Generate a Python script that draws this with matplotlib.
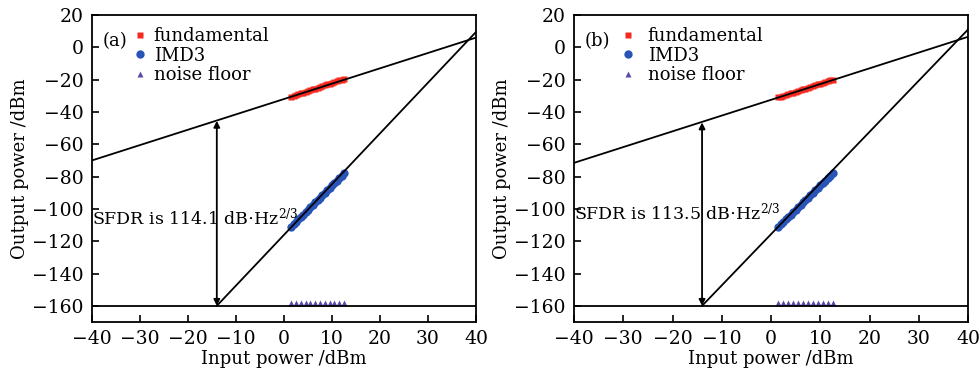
import matplotlib
matplotlib.use("Agg")
import matplotlib.pyplot as plt
import matplotlib.transforms as mtransforms
import numpy as np

plt.rcParams['font.family'] = ['DejaVu Serif']
plt.rcParams['mathtext.fontset'] = 'dejavuserif'

# ---- data ----
pin_sig = [1.5, 2, 2.5, 3, 3.5, 4, 4.5, 5, 5.5, 6, 6.5, 7, 7.5, 8, 8.5, 9, 9.5,
           10, 10.5, 11, 11.5, 12, 12.5]
pin_noise = [1.5, 2.5, 3.5, 4.5, 5.5, 6.5, 7.5, 8.5, 9.5, 10.5, 11.5, 12.5]
fund_a = [-30.5, -30, -29.5, -29, -28.5, -28, -27.5, -27, -26.5, -26, -25.5, -25,
          -24.5, -24, -23.5, -23, -22.5, -22, -21.5, -21, -20.5, -20, -19.5]
imd3_a = [-111, -109.5, -108, -106.5, -105, -103.5, -102, -100.5, -99, -97.5, -96,
          -94.5, -93, -91.5, -90, -88.5, -87, -85.5, -84, -82.5, -81, -79.5, -78]
noise_a = [-160] * 12
fund_b = [-31, -30.5, -30, -29.5, -29, -28.5, -28, -27.5, -27, -26.5, -26, -25.5,
          -25, -24.5, -24, -23.5, -23, -22.5, -22, -21.5, -21, -20.5, -20]
imd3_b = [-111, -109.5, -108, -106.5, -105, -103.5, -102, -100.5, -99, -97.5, -96,
          -94.5, -93, -91.5, -90, -88.5, -87, -85.5, -84, -82.5, -81, -79.5, -78]
noise_b = [-160] * 12

fund_line_x = [-40, 40]
fund_line_a = [-70, 6]
fund_line_b = [-71.5, 6.5]
imd_line_x = [-14, 40]
imd_line_a = [-160, 9.5]
imd_line_b = [-160, 11]
noise_level = -160
sfdr_x = -14
sfdr_top_a = -45.5
sfdr_top_b = -46.5
sfdr_a = "114.1"
sfdr_b = "113.5"
xticks = [-40, -30, -20, -10, 0, 10, 20, 30, 40]
yticks = [20, 0, -20, -40, -60, -80, -100, -120, -140, -160]

fig = plt.figure(figsize=(9.8, 3.8), dpi=100)
ax_a = fig.add_axes([92/980, 1-322/380, 384/980, 307/380])
ax_b = fig.add_axes([574/980, 1-322/380, 394/980, 307/380])

red = '#f52a1f'
blue = '#2a55b8'
purple = '#5a4aa8'
FS = 13

def panel(ax, tag, fund, imd3, noise, fl, il, top, sfdr, text_y, legend_x, htp):
    ax.plot(pin_sig, fund, 's', color=red, ms=5, mec='none', label='fundamental', zorder=2)
    ax.plot(pin_sig, imd3, 'o', color=blue, ms=6, mec='none', label='IMD3', zorder=2)
    tri_tr = mtransforms.offset_copy(ax.transData, fig=fig, x=0, y=1.8, units='points')
    ax.plot(pin_noise, noise, '^', color=purple, ms=4.8, mec='none', label='noise floor',
            zorder=2, transform=tri_tr)
    ax.plot(fund_line_x, fl, color='black', lw=1.3, zorder=3)
    ax.plot(imd_line_x, il, color='black', lw=1.3, zorder=3)
    ax.axhline(noise_level, color='black', lw=1.3, zorder=3)
    ax.annotate('', xy=(sfdr_x, top), xytext=(sfdr_x, noise_level),
                arrowprops=dict(arrowstyle='<|-|>', lw=1.3, color='black',
                                mutation_scale=9, shrinkA=0, shrinkB=0), zorder=4)
    ax.text(-40, text_y, "SFDR is %s dB$\\cdot$Hz$^{2/3}$" % sfdr, fontsize=12.5,
            va='center', ha='left', zorder=5)
    ax.set_xlim(-40, 40)
    ax.set_ylim(-170, 20)
    ax.set_xticks(xticks)
    ax.set_yticks(yticks)
    ax.set_xticklabels([str(t).replace('-', '\u2212') for t in xticks])
    ax.set_yticklabels([str(t).replace('-', '\u2212') for t in yticks])
    ax.tick_params(direction='in', length=5, width=1.2, labelsize=13.5, pad=6,
                   top=False, right=False)
    for s in ax.spines.values():
        s.set_linewidth(1.3)
    ax.set_xlabel('Input power /dBm', fontsize=FS, labelpad=1)
    ax.set_ylabel('Output power /dBm', fontsize=FS, labelpad=2)
    ax.text(0.028, 0.915, tag, transform=ax.transAxes, fontsize=FS, va='center', ha='left')
    ax.legend(loc='upper left', bbox_to_anchor=(legend_x, 0.985), frameon=False,
              fontsize=FS, handlelength=0.5, handletextpad=htp, labelspacing=0.1,
              borderaxespad=0.2, borderpad=0.2, markerscale=1.0)

panel(ax_a, '(a)', fund_a, imd3_a, noise_a, fund_line_a, imd_line_a, sfdr_top_a, sfdr_a,
      -105.5, 0.095, 0.5)
panel(ax_b, '(b)', fund_b, imd3_b, noise_b, fund_line_b, imd_line_b, sfdr_top_b, sfdr_b,
      -102, 0.107, 0.85)

fig.savefig('out.png', dpi=100)
